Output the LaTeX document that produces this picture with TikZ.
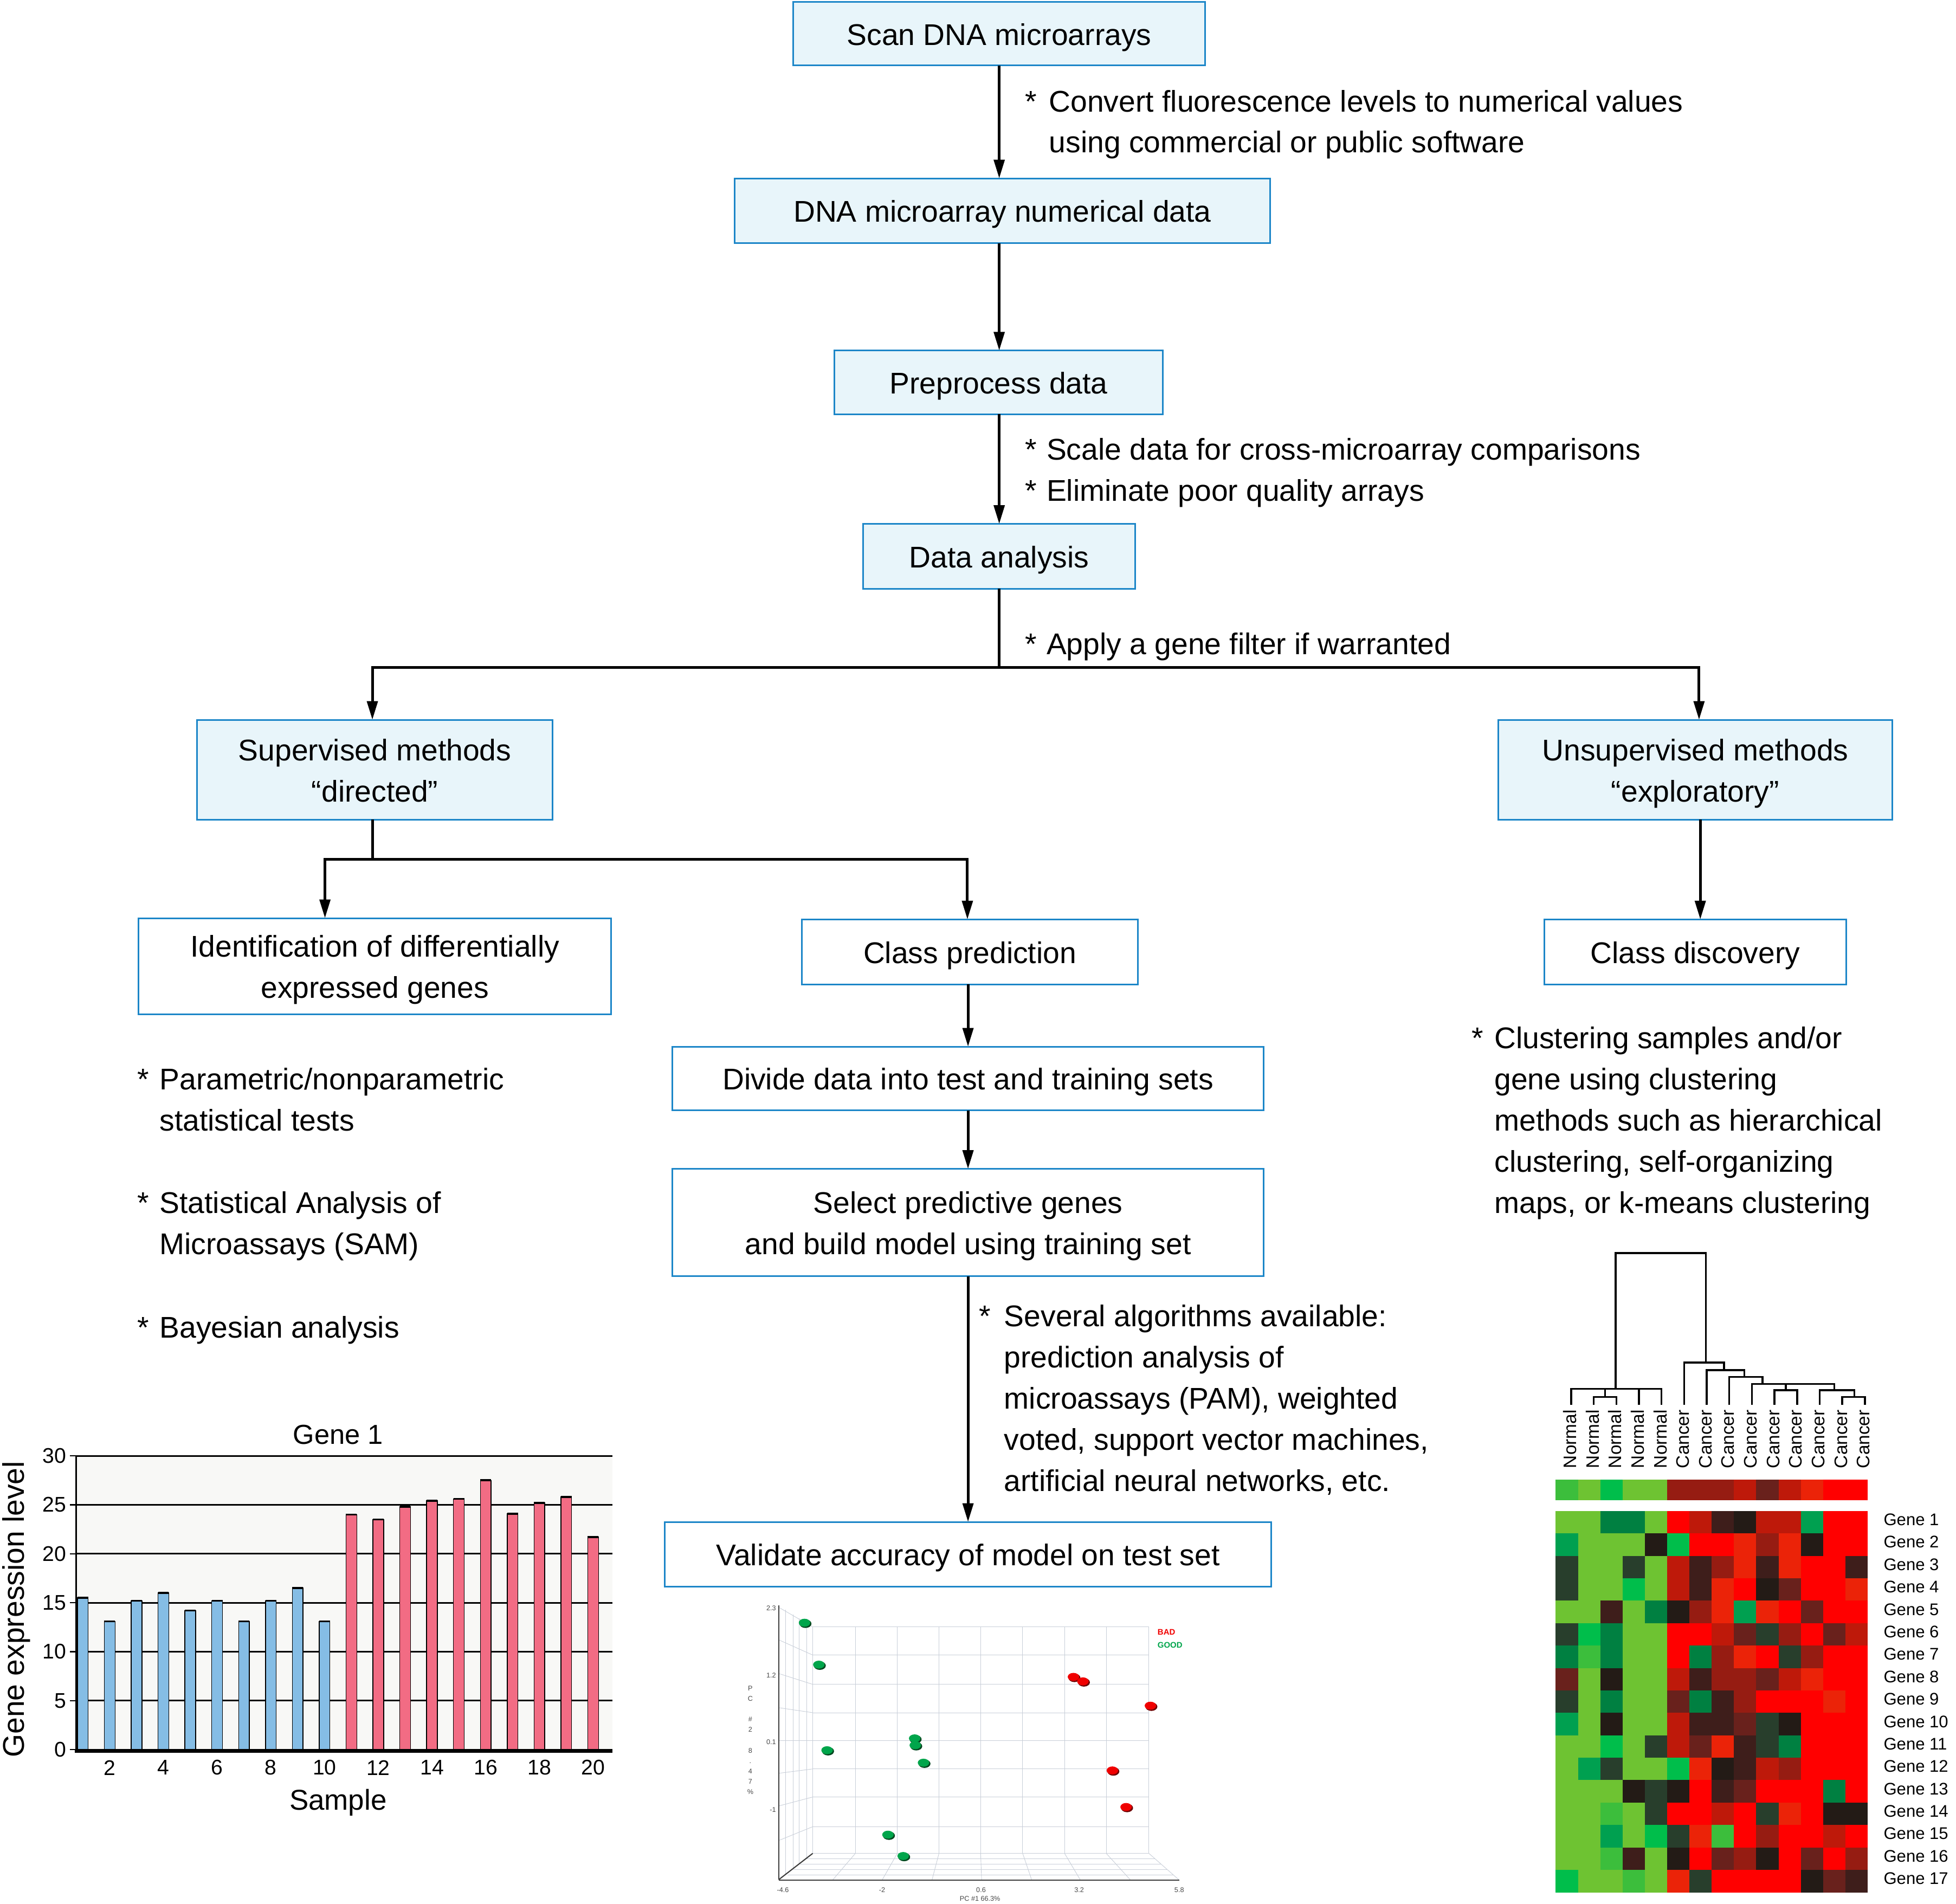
\documentclass[tikz,border=0pt]{standalone}
\usepackage{fontspec}
\setmainfont{Liberation Sans}
\usetikzlibrary{arrows.meta}
\definecolor{boxblue}{RGB}{28,134,200}
\definecolor{boxfill}{RGB}{232,245,250}
\definecolor{barblue}{RGB}{133,189,229}
\definecolor{barred}{RGB}{242,108,132}
\definecolor{plotbg}{RGB}{248,248,246}
\definecolor{scgrid}{RGB}{200,206,216}
\definecolor{scaxis}{RGB}{60,60,60}
\definecolor{sctext}{RGB}{70,70,70}
\definecolor{ptgreen}{RGB}{0,165,75}
\definecolor{ptgreend}{RGB}{0,70,30}
\definecolor{ptred}{RGB}{240,0,0}
\definecolor{ptredd}{RGB}{110,0,0}
% heat map palette
\definecolor{la}{RGB}{110,195,50}
\definecolor{gb}{RGB}{0,190,75}
\definecolor{gm}{RGB}{0,160,80}
\definecolor{gd}{RGB}{0,128,65}
\definecolor{gl}{RGB}{60,190,60}
\definecolor{vd}{RGB}{40,62,44}
\definecolor{kk}{RGB}{35,27,22}
\definecolor{kb}{RGB}{62,30,27}
\definecolor{dr}{RGB}{105,33,28}
\definecolor{mr}{RGB}{150,28,18}
\definecolor{rt}{RGB}{190,25,10}
\definecolor{ro}{RGB}{235,35,8}
\definecolor{rr}{RGB}{255,0,0}
\newcommand\myfs[2]{\fontsize{#1}{#2}\selectfont}
\newcommand\astcol[1]{\makebox[#1][l]{*}}
\newcommand\boxtxt[1]{\raisebox{-2.5pt}[\height][\depth]{\begin{tabular}{@{}c@{}}#1\end{tabular}}}
\begin{document}
\begin{tikzpicture}[x=1pt,y=-1pt,
  every node/.style={inner sep=0pt,outer sep=0pt},
  flowbox/.style={draw=boxblue,line width=1.3pt,align=center,font=\myfs{24}{33}},
  litebox/.style={flowbox,fill=boxfill},
  whitebox/.style={flowbox,fill=white},
  conn/.style={line width=2.2pt,draw=black},
  arr/.style={conn,-{Triangle[length=15pt,width=8.5pt]}},
  note/.style={anchor=base west,font=\myfs{24}{33},align=left},
  scg/.style={draw=scgrid,line width=0.4pt},
  scax/.style={draw=scaxis,line width=0.9pt},
  sclab/.style={font=\myfs{5.5}{6},text=sctext},
  dend/.style={line width=1.5pt,draw=black}
]
\useasboundingbox (0,0) rectangle (1568,1526);

%% ---------------- flow chart boxes ----------------
\node[litebox,minimum width=330pt,minimum height=51pt] (scan) at (801,27) {\boxtxt{Scan DNA microarrays}};
\node[litebox,minimum width=429pt,minimum height=52pt] (dnadata) at (803.5,169) {\boxtxt{DNA microarray numerical data}};
\node[litebox,minimum width=263pt,minimum height=51pt] (preproc) at (800.5,306.5) {\boxtxt{Preprocess data}};
\node[litebox,minimum width=218pt,minimum height=52pt] (analysis) at (801,446) {\boxtxt{Data analysis}};
\node[litebox,minimum width=285pt,minimum height=80pt] (superv) at (300.5,617) {\boxtxt{Supervised methods\\“directed”}};
\node[litebox,minimum width=316pt,minimum height=80pt] (unsuperv) at (1359,617) {\boxtxt{Unsupervised methods\\“exploratory”}};
\node[whitebox,minimum width=379pt,minimum height=77pt] (ident) at (300.5,774.5) {\boxtxt{Identification of differentially\\expressed genes}};
\node[whitebox,minimum width=269pt,minimum height=52pt] (classpred) at (777.5,763) {\boxtxt{Class prediction}};
\node[whitebox,minimum width=242pt,minimum height=52pt] (classdisc) at (1359,763) {\boxtxt{Class discovery}};
\node[whitebox,minimum width=474pt,minimum height=51pt] (divide) at (776,864.5) {\boxtxt{Divide data into test and training sets}};
\node[whitebox,minimum width=474pt,minimum height=86pt] (select) at (776,980) {\boxtxt{Select predictive genes\\and build model using training set}};
\node[whitebox,minimum width=486pt,minimum height=52pt] (validate) at (776,1246) {\boxtxt{Validate accuracy of model on test set}};

%% ---------------- connectors ----------------
\draw[arr] (scan.south) -- (scan.south |- dnadata.north);
\draw[arr] (dnadata.south -| scan.south) -- (preproc.north -| scan.south);
\draw[arr] (preproc.south -| scan.south) -- (analysis.north -| scan.south);
\coordinate (sp1) at (801,535);
\draw[conn] (analysis.south) -- (sp1);
\draw[arr] (sp1) -| ([xshift=-2pt]superv.north);
\draw[arr] (sp1) -| ([xshift=3pt]unsuperv.north);
\coordinate (sp2) at (298.5,689);
\draw[conn] ([xshift=-2pt]superv.south) -- (sp2);
\draw[arr] (sp2) -| ([xshift=-40pt]ident.north);
\draw[arr] (sp2) -| ([xshift=-2pt]classpred.north);
\draw[arr] ([xshift=4pt]unsuperv.south) -- ([xshift=4pt]unsuperv.south |- classdisc.north);
\draw[arr] ([xshift=-1.5pt]classpred.south) -- ([xshift=-1.5pt]classpred.south |- divide.north);
\draw[arr] (divide.south) -- (select.north);
\draw[arr] (select.south) -- (validate.north);

%% ---------------- notes ----------------
\node[note] (nconv) at (822,89.5) {\begin{tabular}[t]{@{}l@{}l@{}}\astcol{19pt}&Convert fluorescence levels to numerical values\\&using commercial or public software\end{tabular}};
\node[note] (nscale) at (822,368.5) {\astcol{17pt}Scale data for cross-microarray comparisons};
\node[note] (nelim) at (822,401.5) {\astcol{17pt}Eliminate poor quality arrays};
\node[note] (napply) at (822,524.5) {\astcol{17pt}Apply a gene filter if warranted};
\node[note] (npar) at (110,873.5) {\begin{tabular}[t]{@{}l@{}l@{}}\astcol{18pt}&Parametric/nonparametric\\&statistical tests\end{tabular}};
\node[note] (nsam) at (110,972.5) {\begin{tabular}[t]{@{}l@{}l@{}}\astcol{18pt}&Statistical Analysis of\\&Microassays (SAM)\end{tabular}};
\node[note] (nbay) at (110,1072.5) {\astcol{18pt}Bayesian analysis};
\node[note] (nalg) at (785,1063.5) {\begin{tabular}[t]{@{}l@{}l@{}}\astcol{20pt}&Several algorithms available:\\&prediction analysis of\\&microassays (PAM), weighted\\&voted, support vector machines,\\&artificial neural networks, etc.\end{tabular}};
\node[note] (nclu) at (1180,840.5) {\begin{tabular}[t]{@{}l@{}l@{}}\astcol{18pt}&Clustering samples and/or\\&gene using clustering\\&methods such as hierarchical\\&clustering, self-organizing\\&maps, or k-means clustering\end{tabular}};

%% ---------------- bar chart ----------------
\fill[plotbg] (61,1167) rectangle (491,1402.5);
\foreach \v in {5,10,...,30} \draw[line width=1.3pt] (61,{1402.5-7.85*\v}) -- (491,{1402.5-7.85*\v});
\foreach \v in {0,5,...,30} {
  \draw[line width=1pt] (56,{1402.5-7.85*\v}) -- (61,{1402.5-7.85*\v});
  \node[anchor=east,font=\myfs{17}{17}] at (53,{1402.5-7.85*\v}) {\v};
}
\foreach \v [count=\i] in {15.5,13.1,15.2,16.0,14.2,15.2,13.1,15.2,16.5,13.1,24.0,23.5,24.8,25.4,25.6,27.5,24.1,25.2,25.8,21.7} {
  \pgfmathsetmacro\xl{62.1+(\i-1)*21.53}
  \pgfmathsetmacro\yt{1402.5-7.85*\v}
  \ifnum\i<11 \def\bc{barblue}\else\def\bc{barred}\fi
  \filldraw[fill=\bc,draw=black,line width=0.6pt] (\xl,1402.5) rectangle ({\xl+8.6},\yt);
  \draw[line width=1.6pt] (\xl,\yt) -- ({\xl+8.6},\yt);
}
\draw[line width=1.2pt] (61,1167) -- (61,1403);
\draw[line width=3pt] (60,1403.5) -- (491,1403.5);
\foreach \i in {2,4,...,20} \node[font=\myfs{17}{17}] at ({62.1+(\i-1)*21.53+4.3},1417) {\i};
\node[font=\myfs{22}{22}] (gtitle) at (271,1150) {Gene 1};
\node[font=\myfs{23}{23}] (gx) at (271,1445) {Sample};
\node[rotate=90,font=\myfs{24}{24}] (gy) at (13,1290) {Gene expression level};

%% ---------------- scatter plot ----------------
\foreach \x in {651.5,685.7,719.3,752.7,786.1,819.8,853.4,886.8,921.0} \draw[scg] (\x,1304.2) -- (\x,1485.7);
\foreach \y in {1304.2,1326.7,1350.2,1372.9,1395.4,1418.0,1440.5,1464.3,1485.7} \draw[scg] (651.5,\y) -- (921,\y);
\foreach \a/\b in {1288.4/1304.2,1314.5/1326.7,1341.5/1350.2,1368.9/1372.9,1395.4/1395.4,1421.5/1418.0,1447.7/1440.5,1475.4/1464.3} \draw[scg] (624.2,\a) -- (651.5,\b);
\foreach \xb/\xf in {685.7/667.4,719.3/707.1,752.7/747.1,786.1/786.9,819.8/827.1,853.4/866.1,886.8/906.3,921.0/945.3} \draw[scg] (\xb,1485.7) -- (\xf,1507.1);
\foreach \t in {0.2,0.4,0.6,0.8} \draw[scg] ({651.5-25.5*\t},{1485.7+21.4*\t}) -- ({921+24.3*\t},{1485.7+21.4*\t});
\foreach \x in {629.6,635.7,640.6,646.6} \draw[scg] (\x,{1287+(\x-624)*0.625}) -- (\x,{1506-(\x-624)*0.738});
\draw[scax] (624.2,1286.8) -- (624.2,1506.8);
\draw[scax] (624.2,1507.1) -- (945.3,1507.1);
\draw[scax] (624.2,1506.8) -- (651.5,1485.7);
\foreach \px/\py in {644.9/1300.8,656.4/1334.4,663.0/1403.0,733.2/1393.5,733.7/1399.0,740.3/1413.0,711.8/1470.7,724.0/1487.8} {
  \fill[ptgreend] (\px+0.8,\py+0.8) ellipse (4.8 and 3.4);
  \fill[ptgreen] (\px,\py) ellipse (4.6 and 3.2);
}
\foreach \px/\py in {860.5/1344.2,868.1/1347.8,922.2/1367.3,891.7/1419.2,902.7/1448.5} {
  \fill[ptredd] (\px+0.8,\py+0.8) ellipse (4.8 and 3.4);
  \fill[ptred] (\px,\py) ellipse (4.6 and 3.2);
}
\node[font=\myfs{6.5}{7}\bfseries,text=ptred,anchor=west] (bad) at (928,1308.2) {BAD};
\node[font=\myfs{6.5}{7}\bfseries,text=ptgreen,anchor=west] (good) at (928,1318.8) {GOOD};
\node[sclab,anchor=east] at (622,1289.2) {2.3};
\node[sclab,anchor=east] at (622,1343.1) {1.2};
\node[sclab,anchor=east] at (622,1396.5) {0.1};
\node[sclab,anchor=east] at (622,1450.9) {-1};
\node[sclab] at (627.6,1515) {-4.6};
\node[sclab] at (707.1,1515) {-2};
\node[sclab] at (786.4,1515) {0.6};
\node[sclab] at (865.1,1515) {3.2};
\node[sclab] at (945.3,1515) {5.8};
\node[sclab] at (785.6,1522) {PC \#1 66.3\%};
\node[sclab,align=center,anchor=north,font=\myfs{5.5}{8.32}] at (601.5,1351.4) {P\\C\\~\\\#\\2\\~\\8\\.\\4\\7\\\%};

%% ---------------- dendrogram ----------------
\foreach \k in {0,...,13} \coordinate (L\k) at ({1259.5+18.11*\k},1126);
\draw[dend] (L0) -- (L0 |- 0,1113.3) -- (L4 |- 0,1113.3) -- (L4);
\draw[dend] (L1) -- (L1 |- 0,1119.9) -- (L2 |- 0,1119.9) -- (L2);
\draw[dend] (1286.7,1119.9) -- (1286.7,1113.3);
\draw[dend] (L3) -- (L3 |- 0,1113.3);
\draw[dend] (1295.1,1113.3) -- (1295.1,1004.5) -- (1367.5,1004.5) -- (1367.5,1092.2);
\draw[dend] (L5) -- (L5 |- 0,1092.2) -- (1382.0,1092.2) -- (1382.0,1098.3);
\draw[dend] (L6) -- (L6 |- 0,1098.3) -- (1398.4,1098.3) -- (1398.4,1103.8);
\draw[dend] (L7) -- (L7 |- 0,1103.8) -- (1412.9,1103.8) -- (1412.9,1109.3);
\draw[dend] (L8) -- (L8 |- 0,1109.3) -- (1470.4,1109.3) -- (1470.4,1114.3);
\draw[dend] (1431.6,1109.3) -- (1431.6,1114.3);
\draw[dend] (L9) -- (L9 |- 0,1114.3) -- (L10 |- 0,1114.3) -- (L10);
\draw[dend] (L11) -- (L11 |- 0,1114.3) -- (1486.4,1114.3) -- (1486.4,1119.9);
\draw[dend] (L12) -- (L12 |- 0,1119.9) -- (L13 |- 0,1119.9) -- (L13);
\foreach \k in {0,...,4} \node[rotate=90,anchor=west,font=\myfs{14.5}{15}] at ({1258.4+18.11*\k},1177) {Normal};
\foreach \k in {5,...,13} \node[rotate=90,anchor=west,font=\myfs{14.5}{15}] at ({1258.4+18.11*\k},1177) {Cancer};

%% ---------------- heat map ----------------
\foreach \cc [count=\k] in {gl,la,gb,la,la,mr,mr,mr,rt,dr,rt,ro,rr,rr}
  \fill[fill=\cc] ({1247.1+(\k-1)*17.86},1186.1) rectangle ++(17.95,16.6);
\foreach \rowl [count=\r] in {
 {la,la,gd,gd,la,rr,rt,kb,kk,rt,rt,gm,rr,rr},
 {gm,la,la,la,kk,gb,rr,rr,ro,mr,ro,kk,rr,rr},
 {vd,la,la,vd,la,rt,kb,mr,ro,kb,ro,rr,rr,kb},
 {vd,la,la,gb,la,rt,kb,ro,rr,kk,dr,rr,rr,ro},
 {la,la,kb,la,gd,kk,mr,ro,gm,ro,rr,dr,rr,rr},
 {vd,gb,gd,la,la,rr,rr,rt,dr,vd,mr,rr,dr,rt},
 {gd,gl,gd,la,la,rr,gd,mr,ro,rr,vd,mr,rr,rr},
 {dr,la,kk,la,la,rt,kb,mr,mr,dr,rt,ro,rr,rr},
 {vd,la,gd,la,la,dr,gd,kb,mr,rr,rr,rr,ro,rr},
 {gm,la,kk,la,la,rt,kb,kb,dr,vd,kk,rr,rr,rr},
 {la,la,gb,la,vd,rt,dr,ro,kb,vd,gd,rr,rr,rr},
 {la,gm,vd,la,la,gb,ro,kk,kb,rt,mr,rr,rr,rr},
 {la,la,la,kk,vd,kk,rr,kb,dr,rr,rr,rr,gd,rr},
 {la,la,gl,la,vd,rr,rr,rt,rr,vd,ro,rr,kk,kk},
 {la,la,gm,la,gb,vd,ro,gl,rr,mr,rr,rr,rt,rr},
 {la,la,gl,kb,la,kk,rr,dr,mr,kk,rr,dr,rr,mr},
 {gb,la,la,gl,la,ro,vd,rr,rr,rr,rr,kk,dr,kb}} {
  \foreach \cc [count=\k] in \rowl
    \fill[fill=\cc] ({1247.1+(\k-1)*17.86},{1211.2+(\r-1)*17.98}) rectangle ++(17.95,18.05);
  \node[anchor=west,font=\myfs{13.5}{14}] at (1510,{1211.2+17.98*(\r-0.5)-2}) {Gene \r};
}
\end{tikzpicture}
\end{document}
